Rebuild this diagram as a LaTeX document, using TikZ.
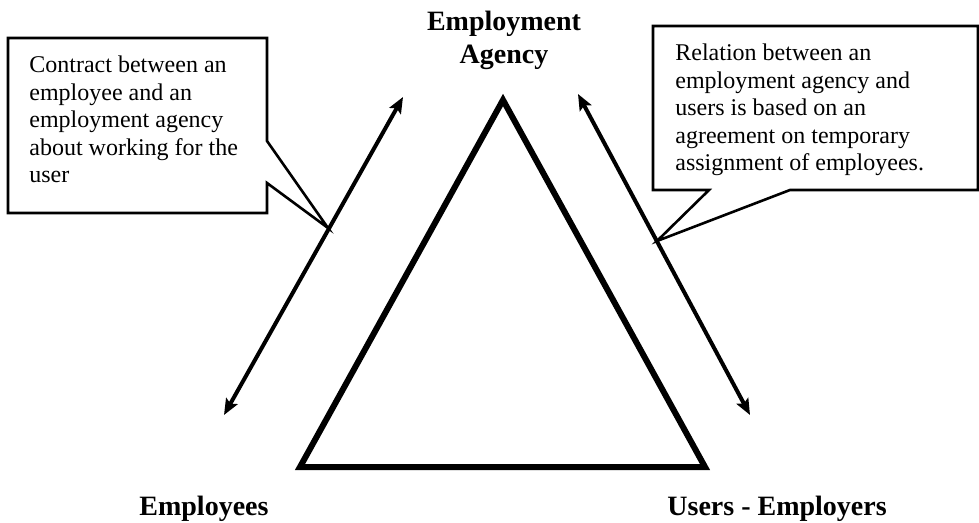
\documentclass[tikz,border=0pt]{standalone}
\usepackage{fontspec}
\setmainfont{Liberation Serif}
\usetikzlibrary{arrows.meta}
\tikzset{
  party/.style={inner sep=0pt, font=\fontsize{14}{16.5}\selectfont\bfseries},
  note/.style={inner sep=0pt, align=left, anchor=north west, font=\fontsize{12}{13.75}\selectfont},
  callout/.style={draw, line width=1.3pt, line join=miter},
  link/.style={{Stealth[length=8pt,width=6.5pt,inset=1.5pt]}-{Stealth[length=8pt,width=6.5pt,inset=1.5pt]}, line width=2pt}
}
\begin{document}
\begin{tikzpicture}[x=0.5pt,y=-0.5pt]
    \useasboundingbox (0,0) rectangle (979,523);
    \draw[line width=3pt, line join=miter] (503,100) -- (705,467) -- (300,467) -- cycle;

    \coordinate (ltop) at (403,97);
    \coordinate (lbot) at (224,415);
    \coordinate (rtop) at (578,94);
    \coordinate (rbot) at (750,415);
    \coordinate (ltip) at (328,228);
    \coordinate (rtip) at (657,241);

    \draw[callout] (8,38) -- (267,38) -- (267,141) -- (ltip) -- (267,183) -- (267,213) -- (8,213) -- cycle;
    \draw[callout] (653,26) -- (978,26) -- (978,190) -- (790,190) -- (rtip) -- (709,190) -- (653,190) -- cycle;

    \draw[link] (lbot) -- (ltop);
    \draw[link] (rtop) -- (rbot);

    \node[note] (contract) at (29,55.6) {Contract between an\\employee and an\\employment agency\\about working for the\\user};
    \node[note] (relation) at (675,43.6) {Relation between an\\employment agency and\\users is based on an\\agreement on temporary\\assignment of employees.};

    \node[party, anchor=north, align=center] (agency) at (504,11) {Employment\\Agency};
    \node[party, anchor=base west] (employees) at (139,515) {Employees};
    \node[party, anchor=base west] (users) at (667,515) {Users - Employers};
\end{tikzpicture}
\end{document}
